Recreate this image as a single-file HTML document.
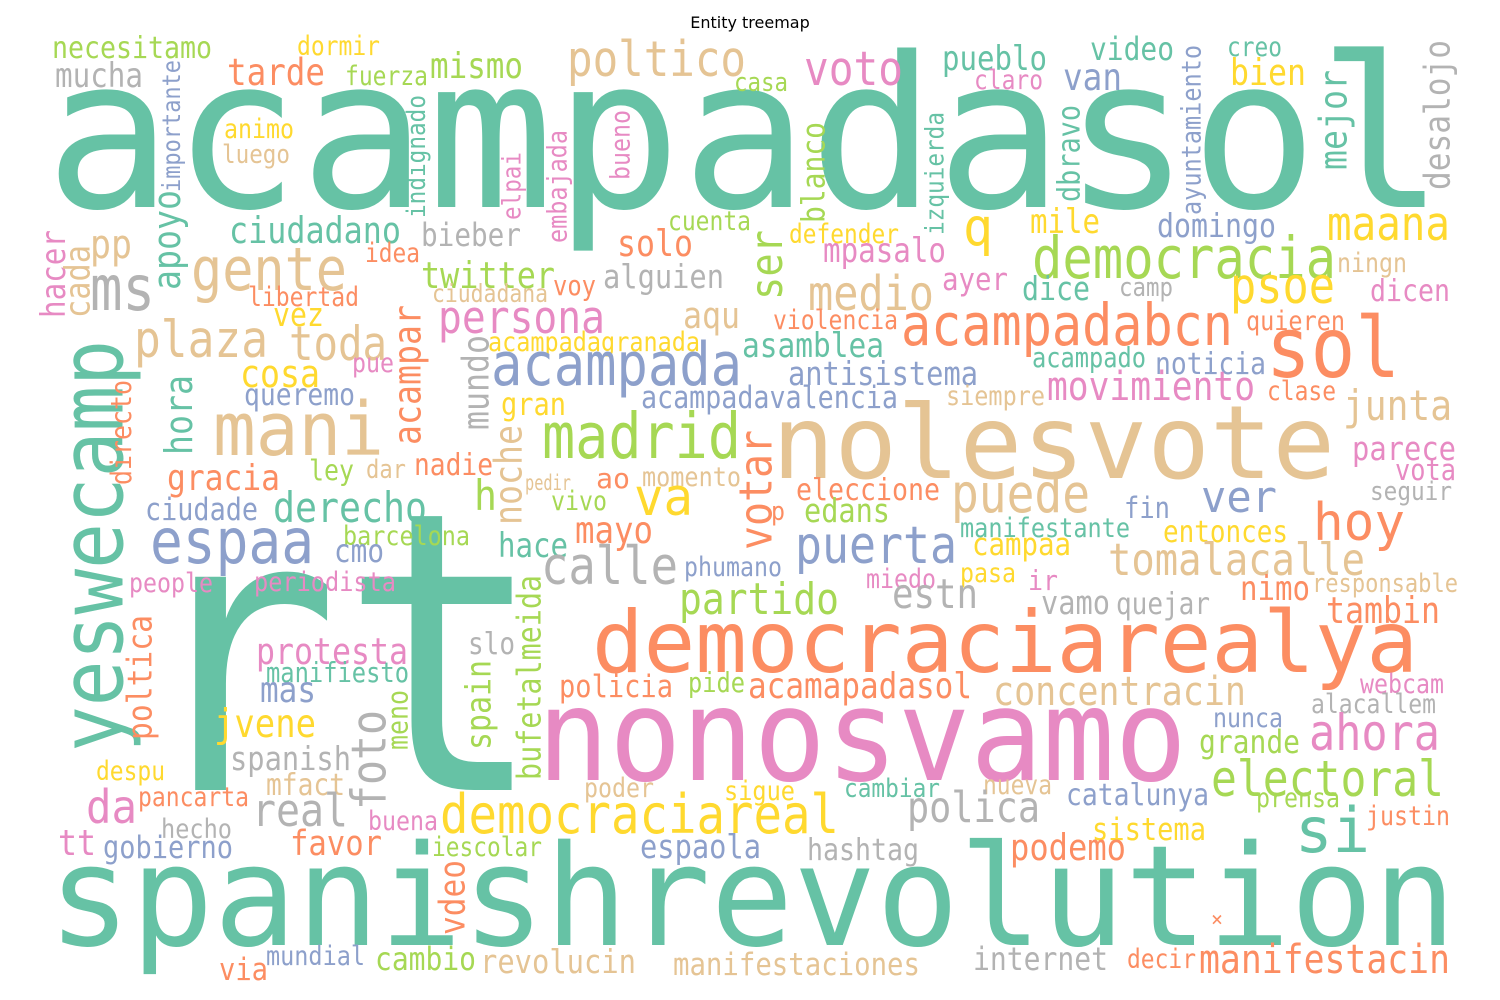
<!DOCTYPE html>
<html><head><meta charset="utf-8"><style>
html,body{margin:0;padding:0;background:#fff;}
svg{display:block;}
text{font-family:"DejaVu Sans Mono","Liberation Mono",monospace;}
</style></head><body>
<svg id="cloud" width="1500" height="1000" viewBox="0 0 1500 1000">
<rect width="1500" height="1000" fill="#fff"/>
<text x="750" y="28" text-anchor="middle" font-size="16" style="font-family:'DejaVu Sans','Liberation Sans',sans-serif" fill="#000">Entity treemap</text>
</svg>
<script>
const palette = {T:'#66c2a5',O:'#fc8d62',B:'#8da0cb',P:'#e78ac3',G:'#a6d854',Y:'#ffd92f',N:'#e5c494',R:'#b3b3b3'};
// horizontal words: text, left x, right x, baseline y, colour, optional size
const hWords = [
['acampadasol',45,1445,207,'T',210],
['rt',135,545,790,'T',390],
['spanishrevolution',48,1456,945,'T',140],
['nonosvamo',537,1187,780,'P',128],
['nolesvote',772,1335,478,'N',102],
['democraciarealya',592,1418,672,'O',86],
['necesitamo',52,212,58,'G'],['dormir',297,380,55,'Y'],['mucha',55,143,87,'R'],
['tarde',227,325,85,'O'],['fuerza',345,428,85,'G'],['mismo',430,523,78,'G'],
['poltico',567,746,76,'N'],['casa',734,788,91,'G'],['voto',804,903,85,'P'],
['pueblo',942,1047,70,'T'],['claro',974,1043,89,'P'],['video',1090,1174,60,'T'],
['van',1063,1122,90,'B'],['creo',1227,1282,56,'T'],['bien',1230,1306,85,'Y'],
['animo',224,294,138,'Y'],['luego',222,290,163,'N'],['ciudadano',229,401,243,'T'],
['bieber',421,521,246,'R'],['cuenta',668,751,230,'G'],['solo',617,693,256,'O'],
['defender',789,899,243,'Y'],['q',963,993,245,'Y',52],['mile',1030,1100,233,'Y'],
['domingo',1157,1276,237,'B'],['maana',1327,1450,240,'Y'],['pp',90,132,258,'N',40],
['gente',191,347,290,'N'],['idea',365,420,262,'O'],['twitter',421,555,288,'G'],
['alguien',603,724,288,'R'],['mpasalo',823,946,262,'P'],['democracia',1032,1336,278,'G'],
['ningn',1337,1407,272,'N'],['ms',90,155,310,'R',62],['libertad',248,359,306,'O'],
['ciudadana',432,548,302,'N'],['voy',553,596,295,'O'],['medio',808,934,310,'N'],
['ayer',942,1008,290,'P'],['dice',1022,1090,300,'T'],['camp',1119,1173,296,'R'],
['psoe',1230,1335,303,'Y'],['dicen',1370,1450,301,'P'],['vez',273,324,326,'Y'],
['persona',438,605,333,'P'],['aqu',683,740,328,'N'],['violencia',773,898,329,'O'],
['acampadabcn',901,1233,345,'O'],['quieren',1246,1345,330,'O'],['plaza',134,268,357,'N'],
['toda',289,387,360,'N'],['acampadagranada',488,700,351,'Y'],['asamblea',742,884,357,'T'],
['sol',1266,1400,377,'O',84],['pue',352,394,372,'P'],['acampada',491,742,385,'B'],
['acampado',1032,1146,367,'T'],['noticia',1155,1266,374,'B'],['cosa',240,320,387,'Y'],
['antisistema',788,978,385,'B'],['queremo',244,355,405,'B'],['acampadavalencia',641,898,408,'B'],
['siempre',946,1045,405,'N'],['movimiento',1047,1255,400,'P'],['clase',1267,1336,400,'O'],
['junta',1343,1452,420,'N'],['mani',213,384,455,'N',74],['gran',501,566,415,'Y'],
['madrid',542,741,458,'G'],['gracia',167,280,490,'O'],['ley',309,354,480,'G'],
['dar',366,406,478,'N'],['nadie',414,493,475,'O'],['h',474,497,510,'G',42],
['pedir',525,571,490,'N',21],['ao',596,630,488,'O',28],['momento',642,741,486,'N'],
['parece',1352,1456,460,'P'],['vota',1395,1456,480,'P'],['va',634,693,515,'Y',52],
['ciudade',145,258,520,'B'],['derecho',273,427,522,'T'],['vivo',551,607,510,'G'],
['eleccione',796,940,500,'O'],['puede',951,1090,512,'N'],['ver',1201,1277,512,'B',44],
['seguir',1370,1452,500,'R'],['espaa',150,314,563,'B'],['barcelona',343,470,545,'G'],
['cmo',334,384,562,'B'],['hace',498,568,557,'T'],['mayo',575,653,543,'O'],
['p',771,785,520,'O',26],['edans',804,890,522,'G'],['fin',1124,1170,518,'B'],
['hoy',1313,1405,540,'O',52],['manifestante',960,1130,537,'T'],['entonces',1163,1288,542,'Y'],
['calle',541,678,584,'R'],['puerta',795,957,563,'B'],['campaa',972,1071,555,'Y'],
['tomalacalle',1108,1365,575,'N'],['phumano',684,782,576,'B'],['people',129,213,592,'P'],
['periodista',254,396,591,'P'],['miedo',866,936,588,'P'],['pasa',960,1016,582,'Y'],
['ir',1028,1058,590,'P',28],['estn',892,978,608,'R'],['partido',679,839,614,'G'],
['nimo',1240,1310,600,'O'],['responsable',1312,1458,592,'N'],['vamo',1041,1110,614,'R'],
['quejar',1116,1210,614,'R'],['tambin',1326,1440,623,'O'],['protesta',256,408,664,'P'],
['slo',468,515,654,'R'],['manifiesto',266,409,682,'T'],['mas',260,316,702,'B'],
['policia',559,673,697,'O'],['pide',688,745,692,'G'],['acamapadasol',748,972,698,'O'],
['concentracin',993,1246,705,'N'],['webcam',1360,1444,693,'P'],['alacallem',1311,1436,713,'R'],
['nunca',1213,1283,727,'B'],['jvene',214,316,737,'Y'],['ahora',1309,1440,750,'P'],
['grande',1199,1300,753,'G'],['spanish',230,351,770,'R'],['despu',96,165,780,'Y'],
['mfact',266,345,795,'N'],['electoral',1211,1444,796,'G'],['pancarta',138,249,806,'O'],
['poder',584,654,797,'N'],['sigue',724,795,800,'Y'],['cambiar',844,940,797,'T'],
['nueva',983,1052,794,'N'],['catalunya',1066,1209,805,'B'],['prensa',1256,1340,807,'G'],
['da',86,137,823,'P',46],['real',252,348,826,'R'],['democraciareal',440,839,833,'Y'],
['polica',907,1040,822,'R'],['buena',368,438,830,'P'],['hecho',161,232,838,'R'],
['justin',1366,1450,825,'O'],['sistema',1092,1206,840,'Y'],['tt',58,96,855,'P',36],
['gobierno',103,233,858,'B'],['favor',290,382,855,'O'],['iescolar',432,542,856,'G'],
['espaola',640,761,858,'B'],['hashtag',807,919,860,'R'],['si',1295,1370,852,'T',62],
['podemo',1010,1126,860,'O'],['mundial',266,365,965,'B'],['via',219,268,980,'O'],
['cambio',375,476,970,'G'],['revolucin',480,636,973,'N'],['manifestaciones',673,920,975,'N'],
['internet',973,1108,970,'R'],['decir',1127,1196,968,'O'],['manifestacin',1199,1450,973,'O'],
['×',1211,1223,926,'O',20]
];
// vertical words (reading upward): text, left x, right x, top y, bottom y, colour
const vWords = [
['importante',163,183,60,192,'B'],['indignado',408,428,95,218,'T'],['elpai',505,522,152,220,'P'],
['embajada',550,568,130,243,'P'],['bueno',613,632,110,180,'P'],['blanco',805,827,122,223,'G'],
['izquierda',927,946,112,235,'T'],['dbravo',1060,1082,105,202,'T'],['ayuntamiento',1183,1203,45,215,'B'],
['mejor',1325,1347,70,170,'T'],['desalojo',1425,1455,40,190,'R'],['apoyo',155,184,190,290,'T'],
['hacer',42,70,230,318,'P'],['cada',70,90,245,318,'N'],['ser',755,785,230,300,'G'],
['yeswecamp',63,135,340,752,'T'],['directo',112,135,380,485,'O'],['hora',168,195,375,455,'T'],
['acampar',395,425,305,445,'O'],['mundo',465,492,335,430,'R'],['noche',497,525,425,525,'N'],
['votar',743,775,430,550,'O'],['poltica',130,155,615,740,'O'],['foto',355,390,710,810,'R'],
['meno',390,410,690,750,'G'],['spain',467,495,660,750,'G'],['bufetalmeida',518,545,575,780,'G'],
['vdeo',445,465,860,935,'O']
];
const sizeBoost = 1.15;
const svg = document.getElementById('cloud');
const NS = 'http://www.w3.org/2000/svg';
hWords.forEach(w => {
  const [txt,x1,x2,y,c,sz] = w;
  const width = x2 - x1;
  const size = sz || sizeBoost * width / (0.602 * [...txt].length);
  const t = document.createElementNS(NS,'text');
  t.setAttribute('x', x1);
  t.setAttribute('y', y);
  t.setAttribute('font-size', size.toFixed(1));
  t.setAttribute('fill', palette[c]);
  t.setAttribute('textLength', width);
  t.setAttribute('lengthAdjust', 'spacingAndGlyphs');
  t.textContent = txt;
  
  
  svg.appendChild(t);
});
vWords.forEach(w => {
  const [txt,x1,x2,y1,y2,c] = w;
  const len = y2 - y1;
  const size = sizeBoost * len / (0.602 * [...txt].length);
  const bx = (x1 + x2) / 2 + 0.27 * size;
  const t = document.createElementNS(NS,'text');
  t.setAttribute('x', 0);
  t.setAttribute('y', 0);
  t.setAttribute('transform', 'translate(' + bx.toFixed(1) + ',' + y2 + ') rotate(-90)');
  t.setAttribute('font-size', size.toFixed(1));
  t.setAttribute('fill', palette[c]);
  t.setAttribute('textLength', len);
  t.setAttribute('lengthAdjust', 'spacingAndGlyphs');
  t.textContent = txt;
  
  
  svg.appendChild(t);
});
</script>
</body></html>
